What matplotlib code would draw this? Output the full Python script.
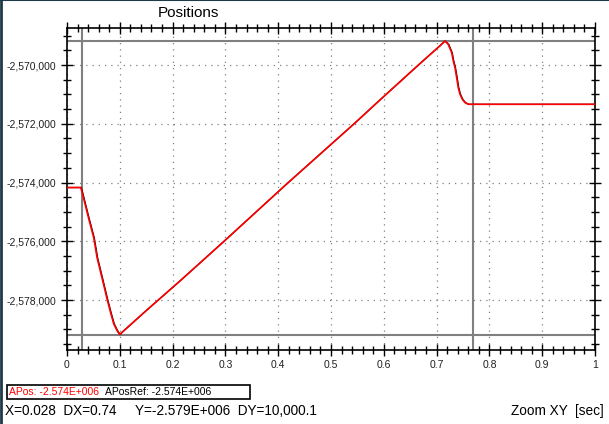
import numpy as np
import matplotlib.pyplot as plt
from matplotlib.patches import Rectangle
from matplotlib.ticker import MultipleLocator, FuncFormatter

plt.rcParams['font.family'] = ['Liberation Sans', 'DejaVu Sans']

t_pos = [0.0, 0.026, 0.0286, 0.0318, 0.0413, 0.0507, 0.057, 0.0665, 0.0759,
         0.0824, 0.0886, 0.0949, 0.0985, 0.1, 0.106, 0.150, 0.214, 0.2974,
         0.416, 0.545, 0.593, 0.6686, 0.706, 0.716, 0.722, 0.7286, 0.7316,
         0.7348, 0.738, 0.741, 0.7443, 0.7487, 0.7538, 0.760, 1.0]
apos = [-2574170, -2574170, -2574333, -2574561, -2575241, -2575880, -2576560,
        -2577260, -2577963, -2578415, -2578813, -2579041, -2579140, -2579170,
        -2579070, -2578360, -2577350, -2576000, -2574050, -2571980, -2571185,
        -2569950, -2569350, -2569184, -2569296, -2569578, -2569864, -2570088,
        -2570428, -2570768, -2570996, -2571166, -2571279, -2571337, -2571337]

# reference position (black), nearly on top of the red one
t_ref = [0.0, 0.027, 0.0296, 0.0328, 0.0423, 0.0517, 0.058, 0.0675, 0.0769,
         0.0834, 0.0896, 0.0959, 0.0995, 0.1008, 0.106, 0.150, 0.214, 0.2974,
         0.416, 0.545, 0.593, 0.6686, 0.706, 0.716, 0.723, 0.7296, 0.7326,
         0.7358, 0.739, 0.742, 0.7453, 0.7497, 0.7548, 0.761, 1.0]
apos_ref = apos

cursor_x = [0.028, 0.768]
cursor_y = [-2569180, -2579180]

W, H = 609, 424


def px(x, y):
    return x / W, 1 - y / H


fig = plt.figure(figsize=(W / 100, H / 100), dpi=100)
ax = fig.add_axes([67 / W, 1 - 350 / H, (595 - 67) / W, (350 - 28) / H])

ax.plot(t_ref, apos_ref, color='black', lw=0.9, zorder=3)
ax.plot(t_pos, apos, color='#ff0000', lw=1.2, zorder=4)

for cx in cursor_x:
    ax.axvline(cx, color='#808080', lw=1.5, zorder=2)
for cy in cursor_y:
    ax.axhline(cy, color='#808080', lw=1.5, zorder=2)

ax.set_xlim(0, 1)
ax.set_ylim(-2579700, -2568740)
ax.xaxis.set_major_locator(MultipleLocator(0.1))
ax.xaxis.set_minor_locator(MultipleLocator(0.02))
ax.yaxis.set_major_locator(MultipleLocator(2000))
ax.yaxis.set_minor_locator(MultipleLocator(500))
ax.xaxis.set_major_formatter(FuncFormatter(lambda v, p: '%g' % round(v, 2)))
ax.yaxis.set_major_formatter(FuncFormatter(lambda v, p: '{:,.0f}'.format(v)))

ax.grid(True, which='major', color='#808080', linestyle=(0, (1, 4)), lw=0.9)
ax.tick_params(which='both', direction='inout', labelsize=7.5, color='black',
               labelcolor='#202020', top=True, right=True, width=1)
ax.tick_params(which='major', length=8, pad=3)
ax.tick_params(which='minor', length=6)
ax.tick_params(axis='y', pad=4)
for s in ax.spines.values():
    s.set_linewidth(1.2)

fig.text(*px(188, 13), 'Positions', ha='center', va='center', fontsize=11)

# legend box under the plot
x0, y0 = px(7, 399)
x1, y1 = px(250, 385)
fig.patches.append(Rectangle((x0, y0), x1 - x0, y1 - y0, transform=fig.transFigure,
                             fill=False, edgecolor='black', lw=1.2))
fig.text(*px(9, 392), 'APos: -2.574E+006', color='#ff0000', fontsize=7.5, va='center')
fig.text(*px(105, 392), 'APosRef: -2.574E+006', color='black', fontsize=7.5, va='center')

# status line
fig.text(*px(5, 411), 'X=0.028  DX=0.74     Y=-2.579E+006  DY=10,000.1',
         fontsize=9.8, va='center')
fig.text(*px(604, 411), 'Zoom XY  [sec]', fontsize=9.8, va='center', ha='right')

# window border on left and top
fig.add_artist(plt.Line2D([0.001, 0.001], [0, 1], color='#1e3a46', lw=2,
                          transform=fig.transFigure))
fig.add_artist(plt.Line2D([0, 1], [0.999, 0.999], color='#1e3a46', lw=1.5,
                          transform=fig.transFigure))

plt.savefig('out.png', dpi=100)
